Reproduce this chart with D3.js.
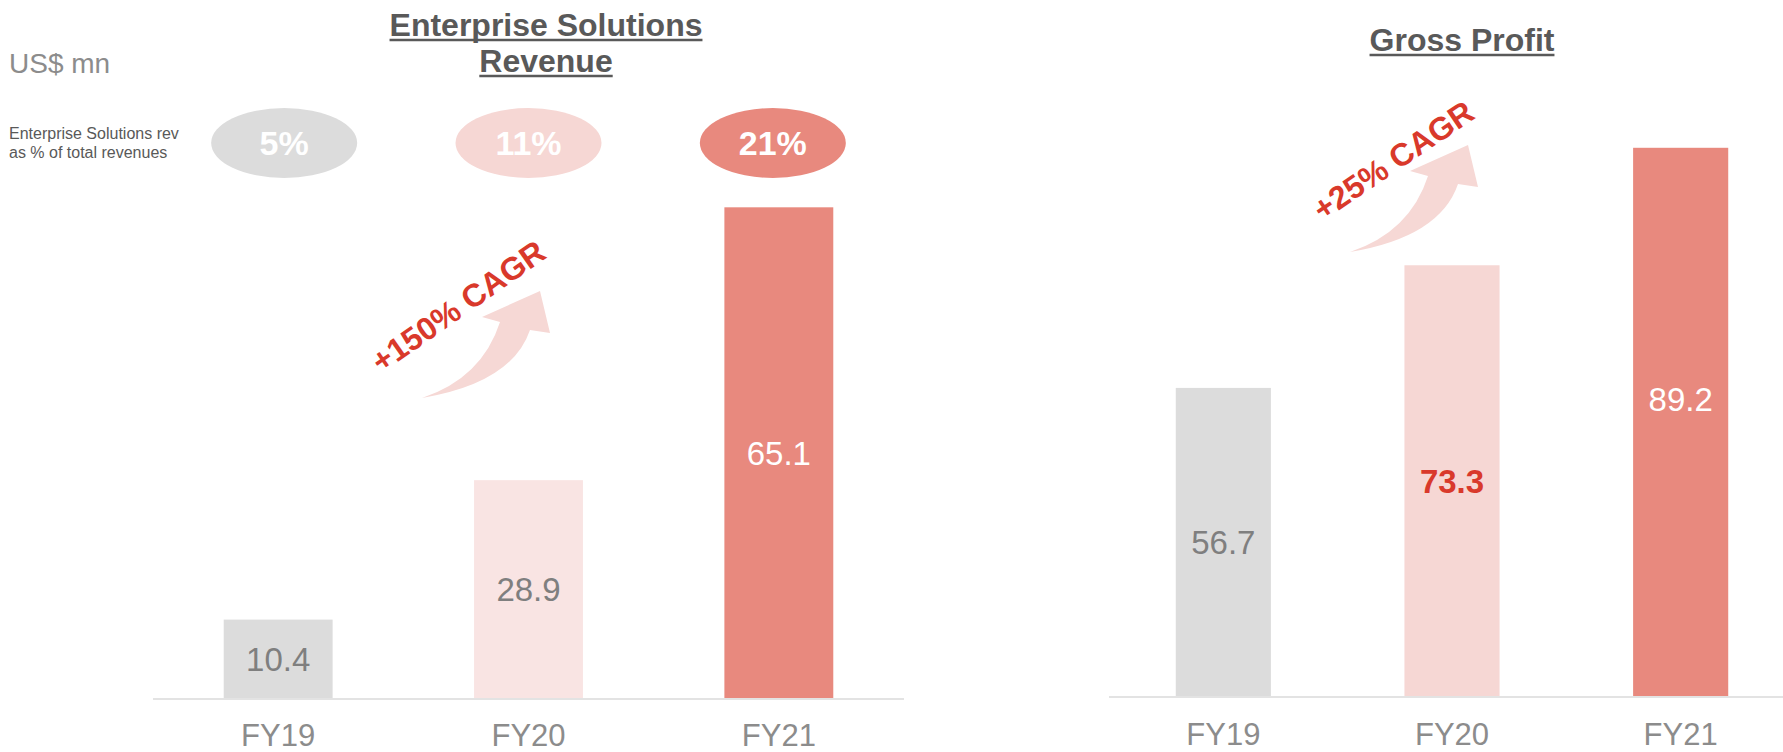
<!DOCTYPE html>
<html>
<head>
<meta charset="utf-8">
<script src="https://cdn.jsdelivr.net/npm/d3@7.9.0/dist/d3.min.js"></script>
<style>
  html, body { margin: 0; padding: 0; background: #fff; }
  svg { display: block; font-family: "Liberation Sans", Arial, sans-serif; }
</style>
</head>
<body>
<svg id="chart" width="1783" height="752"></svg>
<script>
// data
const years = ['FY19', 'FY20', 'FY21'];
const esRevenue = [10.4, 28.9, 65.1];
const esShare = ['5%', '11%', '21%'];
const grossProfit = [56.7, 73.3, 89.2];
const esCagr = '+150% CAGR';
const gpCagr = '+25% CAGR';

const grey = '#dcdcdc', red = '#e8897e', accent = '#d9392b';
const esColors = [grey, '#f9e4e3', red];
const gpColors = [grey, '#f6d7d4', red];
const bubbleColors = [grey, '#f6d7d4', red];

const svg = d3.select('#chart');

// titles with underline
function title(lines, cx, baselines) {
  lines.forEach((t, i) => {
    let txt = svg.append('text')
      .attr('x', cx).attr('y', baselines[i])
      .attr('text-anchor', 'middle')
      .attr('font-size', 32).attr('font-weight', 'bold')
      .attr('fill', '#595959')
      .text(t);
    let w = txt.node().getComputedTextLength();
    svg.append('line')
      .attr('x1', cx - w / 2).attr('x2', cx + w / 2)
      .attr('y1', baselines[i] + 4).attr('y2', baselines[i] + 4)
      .attr('stroke', '#595959').attr('stroke-width', 2.5);
  });
}
title(['Enterprise Solutions', 'Revenue'], 546, [36, 72]);
title(['Gross Profit'], 1462, [51]);

svg.append('text').attr('x', 9).attr('y', 73)
  .attr('font-size', 28).attr('fill', '#8c8c8c').text('US$ mn');

svg.append('text').attr('x', 9).attr('y', 139)
  .attr('font-size', 16).attr('fill', '#595959')
  .selectAll('tspan')
  .data(['Enterprise Solutions rev', 'as % of total revenues'])
  .join('tspan')
  .attr('x', 9).attr('dy', (d, i) => i ? 19 : 0)
  .text(d => d);

// arrow shape, tail at 0,0
const arrowPath = 'M0,0 Q60,-20 78,-76 L60,-81 L118,-107 L128,-65 L108,-68 Q90,-15 0,0 Z';

function barChart(opts) {
  const x = d3.scaleBand().domain(years).range(opts.xr)
    .paddingInner(opts.pad).paddingOuter(opts.pad / 2);
  const y = d3.scaleLinear().domain(opts.yd).range([opts.base, opts.top]);
  const g = svg.append('g');

  g.selectAll('rect').data(opts.values).join('rect')
    .attr('x', (d, i) => x(years[i]))
    .attr('width', x.bandwidth())
    .attr('y', d => y(d))
    .attr('height', d => opts.base - y(d))
    .attr('fill', (d, i) => opts.colors[i]);

  // baseline
  g.append('line')
    .attr('x1', opts.xr[0]).attr('x2', opts.lineEnd)
    .attr('y1', opts.base + 1).attr('y2', opts.base + 1)
    .attr('stroke', '#e3e3e3').attr('stroke-width', 2);

  // value labels
  g.selectAll('text.val').data(opts.values).join('text')
    .attr('class', 'val')
    .attr('x', (d, i) => x(years[i]) + x.bandwidth() / 2)
    .attr('y', (d, i) => (y(d) + opts.base) / 2 + (opts.labelDy ? opts.labelDy[i] : 0))
    .attr('dy', '0.36em')
    .attr('text-anchor', 'middle')
    .attr('font-size', 33)
    .attr('font-weight', (d, i) => opts.labelBold[i] ? 'bold' : 'normal')
    .attr('fill', (d, i) => opts.labelColors[i])
    .text(d => d.toFixed(1));

  // category axis
  const axis = d3.axisBottom(x).tickSize(0).tickPadding(0);
  const ax = g.append('g').attr('transform', `translate(0,${opts.catY})`).call(axis);
  ax.select('.domain').remove();
  ax.selectAll('text').attr('font-size', 31).attr('fill', '#8c8c8c')
    .attr('font-family', '"Liberation Sans", Arial, sans-serif').attr('dy', 0);

  return x;
}

const xEs = barChart({
  values: esRevenue, colors: esColors, xr: [153, 904], lineEnd: 904, pad: 0.565,
  yd: [0, 80], base: 698, top: 95, catY: 746,
  labelColors: ['#7f7f7f', '#7f7f7f', '#fff'], labelBold: [false, false, false]
});

barChart({
  values: grossProfit, colors: gpColors, xr: [1109, 1795], lineEnd: 1783, pad: 0.584,
  yd: [15, 100], base: 696, top: 68, catY: 745, labelDy: [0, 0, -23],
  labelColors: ['#7f7f7f', accent, '#fff'], labelBold: [false, true, false]
});

// share bubbles, sitting above the bars (nudged slightly toward centre)
const bub = svg.append('g');
esShare.forEach((s, i) => {
  const cx = xEs(years[i]) + xEs.bandwidth() / 2 + (1 - i) * 6;
  bub.append('ellipse').attr('cx', cx).attr('cy', 143).attr('rx', 73).attr('ry', 35)
    .attr('fill', bubbleColors[i]);
  bub.append('text').attr('x', cx).attr('y', 143).attr('dy', '0.36em')
    .attr('text-anchor', 'middle').attr('font-size', 34).attr('font-weight', 'bold')
    .attr('fill', '#fff').text(s);
});

// CAGR annotations
function cagr(label, tail, center, angle) {
  svg.append('path').attr('d', arrowPath)
    .attr('transform', `translate(${tail[0]},${tail[1]})`)
    .attr('fill', '#f6d8d5');
  svg.append('text')
    .attr('transform', `translate(${center[0]},${center[1]}) rotate(${angle})`)
    .attr('text-anchor', 'middle').attr('dy', '0.36em')
    .attr('font-size', 32).attr('font-weight', 'bold').attr('fill', accent)
    .text(label);
}
cagr(esCagr, [422, 398], [458, 306], -35);
cagr(gpCagr, [1350, 252], [1393, 160], -34);
</script>
</body>
</html>
